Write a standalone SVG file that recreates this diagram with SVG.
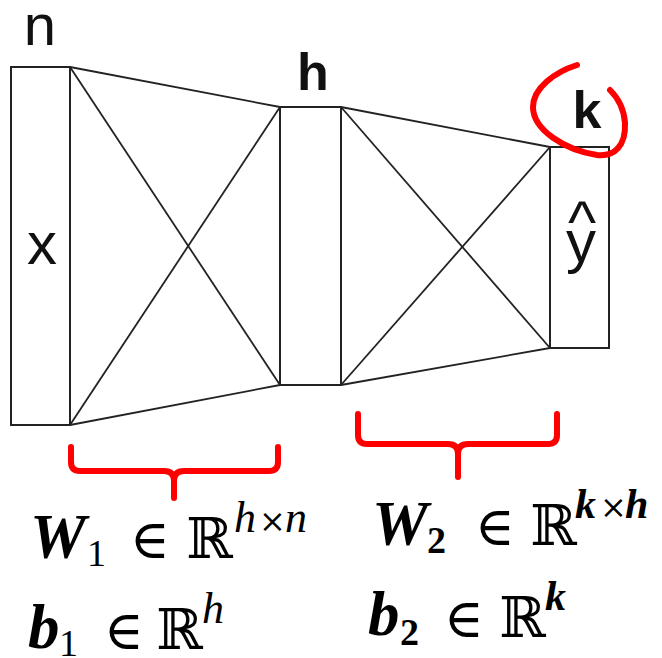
<svg xmlns="http://www.w3.org/2000/svg" width="662" height="658" viewBox="0 0 662 658">
<style>
.box{fill:#fff;stroke:#222;stroke-width:2}
.edge{stroke:#222;stroke-width:1.8;fill:none}
.lbl{font-family:"Liberation Sans",Arial,sans-serif;fill:#111}
.red{fill:none;stroke:#f00;stroke-width:6;stroke-linecap:round;stroke-linejoin:round}
.m{font-family:"Liberation Serif","Times New Roman",serif;fill:#000}
.bi{font-weight:bold;font-style:italic}
.sym{font-family:"DejaVu Serif","DejaVu Sans",serif;fill:#000}
</style>
<rect width="662" height="658" fill="#fff"/>
<g id="connectors">
<line class="edge" x1="70" y1="67" x2="280" y2="107"/>
<line class="edge" x1="70" y1="67" x2="280" y2="385"/>
<line class="edge" x1="70" y1="425" x2="280" y2="107"/>
<line class="edge" x1="70" y1="425" x2="280" y2="385"/>
<line class="edge" x1="341" y1="107" x2="550" y2="147"/>
<line class="edge" x1="341" y1="107" x2="550" y2="348"/>
<line class="edge" x1="341" y1="385" x2="550" y2="147"/>
<line class="edge" x1="341" y1="385" x2="550" y2="348"/>
</g>
<g id="node-x">
<rect class="box" x="11" y="67" width="59" height="358"/>
<text class="lbl" x="42" y="264" font-size="60" text-anchor="middle">x</text>
<text class="lbl" x="40" y="45" font-size="58" text-anchor="middle">n</text>
</g>
<g id="node-h">
<rect class="box" x="280" y="107" width="61" height="278"/>
<text class="lbl" x="313" y="90" font-size="52" font-weight="bold" text-anchor="middle">h</text>
</g>
<g id="node-y">
<rect class="box" x="550" y="147" width="59" height="201"/>
<text class="lbl" x="582" y="243" font-size="60" text-anchor="middle">^</text>
<text class="lbl" x="581" y="262" font-size="60" text-anchor="middle">y</text>
<text class="lbl" x="587" y="128" font-size="52" font-weight="bold" text-anchor="middle">k</text>
<path class="red" stroke-width="5" d="M577,65 C555,72 533,88 533,107 C533,130 565,150 597,155 C615,157 626,145 625,123 C624,108 618,98 610,90"/>
</g>
<g id="brackets">
<path class="red" d="M71,447 V462 Q71,471 80,471 H164 Q174,471 174,481 V498 M278,447 V462 Q278,471 269,471 H184 Q174,471 174,481"/>
<path class="red" d="M358,414 V435 Q358,444 367,444 H448 Q458,444 458,454 V477 M557,414 V435 Q557,444 548,444 H468 Q458,444 458,454"/>
</g>
<g id="math-W1">
<text class="m bi" x="30" y="558" font-size="63">W</text>
<text class="m" x="87" y="566" font-size="38">1</text>
<text class="sym" x="130" y="558" font-size="54">∈</text>
<text class="sym" x="186" y="558" font-size="56">ℝ</text>
<text class="m" x="234" y="532" font-size="44" font-style="italic">h</text>
<text class="sym" x="259" y="532" font-size="32">×</text>
<text class="m" x="285" y="532" font-size="44" font-style="italic">n</text>
</g>
<g id="math-b1">
<text class="m bi" x="28" y="648" font-size="63">b</text>
<text class="m" x="59" y="656" font-size="38">1</text>
<text class="sym" x="104" y="649" font-size="54">∈</text>
<text class="sym" x="156" y="649" font-size="56">ℝ</text>
<text class="m" x="202" y="623" font-size="44" font-style="italic">h</text>
</g>
<g id="math-W2">
<text class="m bi" x="372" y="545" font-size="63">W</text>
<text class="m" x="427" y="553" font-size="38" font-weight="bold">2</text>
<text class="sym" x="475" y="545" font-size="54">∈</text>
<text class="sym" x="530" y="545" font-size="56">ℝ</text>
<text class="m bi" x="575" y="518" font-size="42">k</text>
<text class="sym" x="600" y="518" font-size="32">×</text>
<text class="m bi" x="625" y="518" font-size="42">h</text>
</g>
<g id="math-b2">
<text class="m bi" x="368" y="635" font-size="63">b</text>
<text class="m" x="400" y="645" font-size="38" font-weight="bold">2</text>
<text class="sym" x="444" y="637" font-size="54">∈</text>
<text class="sym" x="499" y="637" font-size="56">ℝ</text>
<text class="m bi" x="545" y="610" font-size="42">k</text>
</g>
</svg>
